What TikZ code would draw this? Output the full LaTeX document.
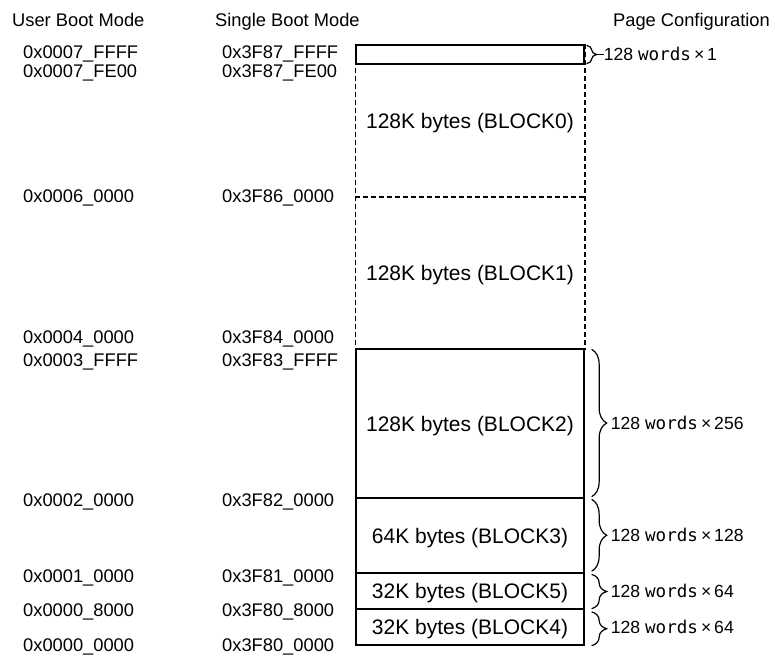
\documentclass[tikz,border=0pt]{standalone}
\usepackage{fontspec}
\setmainfont{Liberation Sans}
\newfontfamily\wordsfont{DejaVu Sans Mono}
\usetikzlibrary{decorations.pathreplacing}

\begin{document}
\begin{tikzpicture}[x=1pt, y=-1pt,
  addr/.style={anchor=base west, inner sep=0pt, font=\fontsize{18.3}{22}\selectfont},
  blk/.style={draw, line width=1.3pt, minimum width=228pt, inner sep=0pt,
    text height=15pt, text depth=0pt, font=\fontsize{21}{25}\selectfont},
  dashblk/.style={blk, draw=none},
  dashline/.style={line width=1.7pt, dash pattern=on 4.5pt off 3.5pt},
  pagebrace/.style={decorate, decoration={brace, amplitude=15pt, raise=7pt}, line width=1.2pt},
  pagelbl/.style={anchor=west, inner sep=0pt, text height=12.6pt, text depth=0pt,
    font=\fontsize{17.6}{20}\selectfont}]

  \useasboundingbox (0,0) rectangle (775,657);

  % -- Headers --
  \node[addr] (ubm) at (12,26.5) {User Boot Mode};
  \node[addr] (sbm) at (215,26.5) {Single Boot Mode};
  \node[addr, anchor=base east] (pcf) at (770,26.5) {Page Configuration};

  % -- User boot addresses --
  \node[addr] (u7FFFF) at (23,58) {0x0007\_FFFF};
  \node[addr] (u7FE00) at (23,77.5) {0x0007\_FE00};
  \node[addr] (u60000) at (23,202.5) {0x0006\_0000};
  \node[addr] (u40000) at (23,343.5) {0x0004\_0000};
  \node[addr] (u3FFFF) at (23,366.5) {0x0003\_FFFF};
  \node[addr] (u20000) at (23,506.5) {0x0002\_0000};
  \node[addr] (u10000) at (23,582.5) {0x0001\_0000};
  \node[addr] (u08000) at (23,616.5) {0x0000\_8000};
  \node[addr] (u00000) at (23,651.5) {0x0000\_0000};

  % -- Single boot addresses --
  \node[addr] (s7FFFF) at (222,58) {0x3F87\_FFFF};
  \node[addr] (s7FE00) at (222,77.5) {0x3F87\_FE00};
  \node[addr] (s60000) at (222,202.5) {0x3F86\_0000};
  \node[addr] (s40000) at (222,343.5) {0x3F84\_0000};
  \node[addr] (s3FFFF) at (222,366.5) {0x3F83\_FFFF};
  \node[addr] (s20000) at (222,506.5) {0x3F82\_0000};
  \node[addr] (s10000) at (222,582.5) {0x3F81\_0000};
  \node[addr] (s08000) at (222,616.5) {0x3F80\_8000};
  \node[addr] (s00000) at (222,651.5) {0x3F80\_0000};

  % -- Dashed blocks (BLOCK0, BLOCK1) --
  \node[dashblk, minimum height=151pt] (blk0) at (470,120.5) {128K bytes (BLOCK0)};
  \node[dashblk, minimum height=153pt] (blk1) at (470,272.5) {128K bytes (BLOCK1)};
  \draw[dashline] (blk0.north west) -- (blk1.south west);
  \draw[dashline] (blk0.north east) -- (blk1.south east);
  \draw[dashline] (blk0.south west) -- (blk0.south east);

  % -- Solid blocks --
  \node[blk, fill=white, minimum height=19pt] (ptop) at (470,54.5) {};
  \node[blk, minimum height=149pt] (blk2) at (470,423.5) {128K bytes (BLOCK2)};
  \node[blk, minimum height=75pt] (blk3) at (470,535.5) {64K bytes (BLOCK3)};
  \node[blk, minimum height=36pt] (blk5) at (470,591) {32K bytes (BLOCK5)};
  \node[blk, minimum height=36pt] (blk4) at (470,627) {32K bytes (BLOCK4)};

  % -- Page configuration braces --
  \draw[decorate, decoration={brace, amplitude=10pt, raise=2pt}, line width=1.2pt]
    ([yshift=-1pt]ptop.north east) -- ([yshift=1pt]ptop.south east);
  \coordinate (toptip) at ([xshift=12pt]ptop.east);
  \node[pagelbl] (wtop) at ([xshift=19pt]ptop.east) {128 {\wordsfont words}\,×\,1};
  \draw[line width=1.2pt] (toptip) -- (wtop.west);

  \draw[pagebrace] ([yshift=-1pt]blk2.north east) -- ([yshift=2pt]blk2.south east);
  \node[pagelbl] (w2) at ([xshift=26pt]blk2.east) {128 {\wordsfont words}\,×\,256};

  \draw[pagebrace] ([yshift=-2pt]blk3.north east) -- ([yshift=2.5pt]blk3.south east);
  \node[pagelbl] (w3) at ([xshift=26pt]blk3.east) {128 {\wordsfont words}\,×\,128};

  \draw[pagebrace] ([yshift=-2pt]blk5.north east) -- ([yshift=1pt]blk5.south east);
  \node[pagelbl] (w5) at ([xshift=26pt]blk5.east) {128 {\wordsfont words}\,×\,64};

  \draw[pagebrace] ([yshift=-3.5pt]blk4.north east) -- ([yshift=0pt]blk4.south east);
  \node[pagelbl] (w4) at ([xshift=26pt]blk4.east) {128 {\wordsfont words}\,×\,64};

\end{tikzpicture}
\end{document}
